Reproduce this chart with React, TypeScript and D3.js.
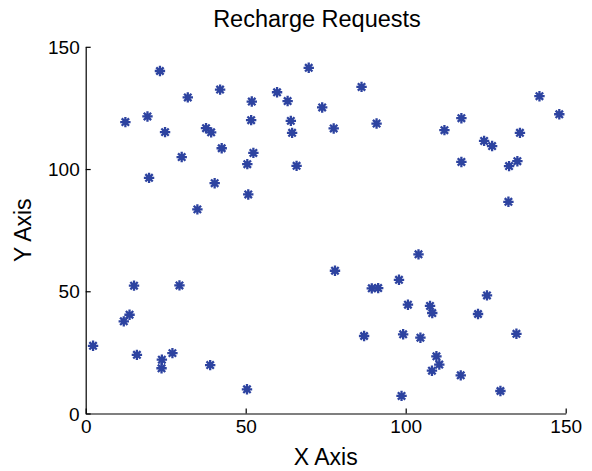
import React, { useEffect, useRef } from 'react';
import * as d3 from 'd3';

// request locations
const xs = [
  23.2, 69.7, 42.0, 31.9, 51.9, 59.8, 63.1, 73.9, 12.4, 19.3, 51.7, 64.1, 24.8, 37.6, 39.2, 64.5,
  77.5, 42.5, 52.4, 30.0, 50.5, 65.9, 19.8, 40.3, 50.8, 34.9, 86.2, 90.9, 112.1, 117.4, 141.8, 148.0,
  135.7, 124.5, 127.0, 117.4, 132.3, 134.9, 132.1,
  15.1, 29.3, 13.7, 11.9, 2.3, 16.0, 23.8, 23.7, 27.1, 38.9, 50.4,
  104.0, 77.9, 97.9, 89.4, 91.4, 100.7, 107.6, 108.3, 125.4, 122.6, 87.0, 99.2, 104.6, 134.6, 109.6,
  110.5, 108.2, 117.2, 129.6, 98.7,
];
const ys = [
  140.1, 141.4, 132.5, 129.3, 127.6, 131.4, 127.8, 125.2, 119.2, 121.5, 120.0, 119.7, 115.1, 116.7, 115.0, 114.8,
  116.6, 108.5, 106.6, 104.9, 102.0, 101.3, 96.4, 94.2, 89.6, 83.5, 133.6, 118.6, 115.9, 120.8, 129.8, 122.4,
  114.8, 111.5, 109.4, 102.9, 101.2, 103.2, 86.6,
  52.3, 52.4, 40.4, 37.7, 27.7, 24.0, 22.0, 18.5, 24.7, 19.8, 9.9,
  65.1, 58.4, 54.7, 51.2, 51.3, 44.5, 44.0, 41.1, 48.3, 40.7, 31.7, 32.4, 31.0, 32.6, 23.4,
  20.0, 17.5, 15.6, 9.2, 7.2,
];
const xTicks = [0, 50, 100, 150];
const yTicks = [0, 50, 100, 150];

// matlab style '*' marker: a plus and a cross
const star = (r: number) => {
  const p = d3.path();
  const k = r * Math.SQRT1_2;
  p.moveTo(-r, 0); p.lineTo(r, 0);
  p.moveTo(0, -r); p.lineTo(0, r);
  p.moveTo(-k, -k); p.lineTo(k, k);
  p.moveTo(-k, k); p.lineTo(k, -k);
  return p.toString();
};

const App = () => {
  const ref = useRef<SVGSVGElement>(null);

  useEffect(() => {
    const svg = d3.select(ref.current);
    svg.selectAll('*').remove();

    const left = 85.7, right = 565.7, top = 46.8, bottom = 413.5;
    const x = d3.scaleLinear().domain([0, 150]).range([left, right]);
    const y = d3.scaleLinear().domain([0, 150]).range([bottom, top]);
    const font = 'Liberation Sans, Arial, Helvetica, sans-serif';

    const xAxis = svg.append('g')
      .attr('transform', `translate(0,${bottom})`)
      .call(d3.axisBottom(x).tickValues(xTicks).tickSizeInner(-5).tickSizeOuter(0).tickPadding(12));
    const yAxis = svg.append('g')
      .attr('transform', `translate(${left},0)`)
      .call(d3.axisLeft(y).tickValues(yTicks).tickSizeInner(-5).tickSizeOuter(0).tickPadding(12));

    [xAxis, yAxis].forEach(a => {
      a.select('.domain').attr('stroke', '#000').attr('stroke-width', 1.2);
      a.selectAll('.tick line').attr('stroke', '#000').attr('stroke-width', 1.2);
      a.selectAll('.tick text').attr('fill', '#000').style('font-family', font).style('font-size', '19px');
    });
    xAxis.selectAll('.tick text').attr('dy', '0.71em').attr('y', 6);
    yAxis.selectAll('.tick text').attr('x', -6).attr('dy', '0.35em');

    svg.append('text')
      .attr('x', 317).attr('y', 27)
      .attr('text-anchor', 'middle')
      .style('font-family', font).style('font-size', '23.5px')
      .text('Recharge Requests');

    svg.append('text')
      .attr('x', (left + right) / 2).attr('y', 465)
      .attr('text-anchor', 'middle')
      .style('font-family', font).style('font-size', '23px')
      .text('X Axis');

    svg.append('text')
      .attr('transform', `translate(31,${(top + bottom) / 2}) rotate(-90)`)
      .attr('text-anchor', 'middle')
      .style('font-family', font).style('font-size', '23px')
      .text('Y Axis');

    svg.append('g')
      .selectAll('path')
      .data(xs.map((v, i) => [v, ys[i]]))
      .join('path')
      .attr('transform', d => `translate(${x(d[0])},${y(d[1])})`)
      .attr('d', star(5.2))
      .attr('fill', 'none')
      .attr('stroke', '#2d43a0')
      .attr('stroke-width', 2.3);
  }, []);

  return (
    <svg ref={ref} width={592} height={471}
      style={{ position: 'absolute', left: 0, top: 0, background: '#fff' }} />
  );
};

export default App;
